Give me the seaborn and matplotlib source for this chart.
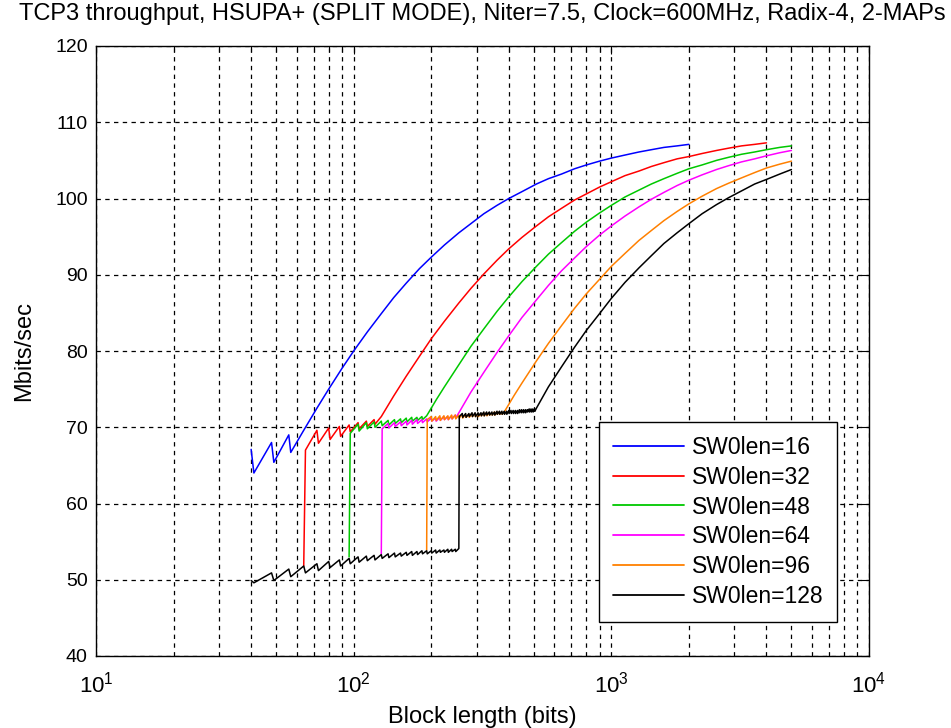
import matplotlib
matplotlib.use("Agg")
import matplotlib.pyplot as plt
import numpy as np
import pandas as pd
import seaborn as sns

# ---------------- data ----------------
labels = ["SW0len=16", "SW0len=32", "SW0len=48", "SW0len=64", "SW0len=96", "SW0len=128"]
colors = ["#0000FF", "#FF0000", "#00C800", "#FF00FF", "#FF8000", "#000000"]

# saw-tooth region: value just before each drop (peak at N) and right after it (trough at N+1)
blue_teeth_N = [40, 48, 56]
blue_teeth_peak = [67.1, 68.0, 69.0]
blue_teeth_trough = [64.0, 65.4, 66.7]
blue_N = [64, 72, 80, 90, 100, 113, 128, 143, 160, 180, 200, 225, 256, 285, 320, 360, 400,
          450, 512, 570, 640, 720, 800, 900, 1000, 1130, 1280, 1430, 1600, 1800, 2000]
blue_y = [69.6, 72.5, 75.0, 77.7, 80.0, 82.5, 84.9, 87.0, 88.9, 90.8, 92.3, 93.9, 95.5, 96.7,
          98.0, 99.1, 100.0, 100.9, 101.9, 102.6, 103.2, 103.9, 104.4, 104.9, 105.3, 105.7,
          106.1, 106.4, 106.7, 106.9, 107.1]

red_teeth_N = [64, 72, 80, 88, 96, 104, 112, 120]
red_teeth_peak = [51.8, 69.6, 69.9, 70.1, 70.3, 70.6, 70.8, 71.0]
red_teeth_trough = [67.0, 67.9, 68.4, 68.8, 69.4, 69.8, 70.1, 70.4]
red_N = [128, 143, 160, 180, 200, 225, 256, 285, 320, 360, 400, 450, 512, 570, 640, 720, 800,
         900, 1000, 1130, 1280, 1430, 1600, 1800, 2000, 2250, 2560, 2850, 3200, 3600, 4000]
red_y = [71.4, 74.1, 76.7, 79.3, 81.6, 83.9, 86.3, 88.2, 90.1, 91.9, 93.4, 94.9, 96.4, 97.6,
         98.7, 99.8, 100.6, 101.5, 102.2, 103.0, 103.6, 104.2, 104.7, 105.2, 105.5, 105.9,
         106.3, 106.6, 106.9, 107.1, 107.3]

green_teeth_N = [96, 104, 112, 120, 128, 136, 144, 152, 160, 168, 176, 184]
green_teeth_peak = [53.0, 70.4, 70.6, 70.7, 70.8, 70.9, 71.0, 71.1, 71.2, 71.3, 71.3, 71.4]
green_teeth_trough = [69.2, 69.5, 69.8, 70.0, 70.2, 70.3, 70.5, 70.6, 70.7, 70.8, 70.9, 71.0]
green_N = [192, 210, 225, 256, 285, 320, 360, 400, 450, 512, 570, 640, 720, 800, 900, 1000,
           1130, 1280, 1430, 1600, 1800, 2000, 2250, 2560, 2850, 3200, 3600, 4000, 4500, 5000]
green_y = [71.5, 73.7, 75.3, 78.2, 80.6, 82.9, 85.2, 87.1, 89.1, 91.1, 92.7, 94.2, 95.7, 96.9,
           98.1, 99.1, 100.2, 101.1, 101.9, 102.6, 103.3, 103.9, 104.4, 105.0, 105.4, 105.8,
           106.1, 106.4, 106.7, 106.9]

mag_teeth_N = [128, 136, 144, 152, 160, 168, 176, 184, 192, 200, 208, 216, 224, 232, 240, 248]
mag_teeth_peak = [53.4, 70.5, 70.6, 70.7, 70.8, 70.9, 71.0, 71.0, 71.1, 71.2, 71.2, 71.3, 71.4, 71.4, 71.5, 71.6]
mag_teeth_trough = [69.8, 69.9, 70.1, 70.2, 70.3, 70.4, 70.5, 70.6, 70.7, 70.8, 70.8, 70.9, 71.0, 71.0, 71.1, 71.2]
mag_N = [256, 285, 320, 360, 400, 450, 512, 570, 640, 720, 800, 900, 1000, 1130, 1280, 1430,
         1600, 1800, 2000, 2250, 2560, 2850, 3200, 3600, 4000, 4500, 5000]
mag_y = [71.9, 74.6, 77.2, 79.8, 82.0, 84.4, 86.7, 88.6, 90.5, 92.2, 93.7, 95.2, 96.4, 97.7,
         98.9, 99.9, 100.8, 101.7, 102.4, 103.1, 103.8, 104.3, 104.8, 105.2, 105.6, 106.0, 106.3]

orange_teeth_N = [192, 200, 208, 216, 224, 232, 240, 248, 256, 264, 272, 280,
                  288, 296, 304, 312, 320, 328, 336, 344, 352, 360, 368, 376]
orange_teeth_peak = [53.9, 71.4, 71.4, 71.5, 71.5, 71.5, 71.6, 71.6, 71.6, 71.7, 71.7, 71.7,
                     71.8, 71.8, 71.8, 71.8, 71.9, 71.9, 71.9, 71.9, 72.0, 72.0, 72.0, 72.0]
orange_teeth_trough = [71.0, 70.8, 70.9, 70.9, 71.0, 71.0, 71.1, 71.1, 71.2, 71.2, 71.3, 71.3,
                       71.4, 71.4, 71.4, 71.5, 71.5, 71.5, 71.6, 71.6, 71.6, 71.7, 71.7, 71.7]
orange_N = [384, 420, 450, 512, 570, 640, 720, 800, 900, 1000, 1130, 1280, 1430, 1600, 1800,
            2000, 2250, 2560, 2850, 3200, 3600, 4000, 4500, 5000]
orange_y = [72.0, 74.2, 75.8, 78.7, 81.0, 83.3, 85.6, 87.5, 89.4, 91.1, 92.8, 94.5, 95.8, 97.1,
            98.3, 99.3, 100.3, 101.3, 102.0, 102.7, 103.4, 104.0, 104.5, 104.9]

black_teeth_N = [40, 48, 56, 64, 72, 80, 88, 96, 104, 112, 120, 128, 136, 144, 152, 160,
                 168, 176, 184, 192, 200, 208, 216, 224, 232, 240, 248, 256,
                 264, 272, 280, 288, 296, 304, 312, 320, 328, 336, 344, 352, 360, 368,
                 376, 384, 392, 400, 408, 416, 424, 432, 440, 448, 456, 464, 472, 480,
                 488, 496, 504]
black_teeth_peak = [49.9, 50.9, 51.4, 51.8, 52.1, 52.4, 52.6, 52.8, 53.0, 53.1, 53.2, 53.3,
                    53.4, 53.5, 53.5, 53.6, 53.7, 53.7, 53.8, 53.8, 53.8, 53.9, 53.9, 53.9,
                    54.0, 54.0, 54.0, 54.1,
                    71.8, 71.8, 71.8, 71.9, 71.9, 71.9, 71.9, 72.0, 72.0, 72.0, 72.0, 72.0,
                    72.1, 72.1, 72.1, 72.1, 72.1, 72.2, 72.2, 72.2, 72.2, 72.2, 72.3, 72.3,
                    72.3, 72.3, 72.3, 72.4, 72.4, 72.4, 72.4]
black_teeth_trough = [49.6, 49.9, 50.4, 50.9, 51.2, 51.6, 51.8, 52.1, 52.3, 52.5, 52.6, 52.8,
                      52.9, 53.0, 53.1, 53.2, 53.2, 53.3, 53.4, 53.4, 53.5, 53.5, 53.6, 53.6,
                      53.6, 53.7, 53.7, 71.4,
                      71.3, 71.3, 71.4, 71.4, 71.4, 71.5, 71.5, 71.5, 71.6, 71.6, 71.6, 71.6,
                      71.7, 71.7, 71.7, 71.7, 71.7, 71.8, 71.8, 71.8, 71.8, 71.8, 71.9, 71.9,
                      71.9, 71.9, 72.0, 72.0, 72.0, 72.0, 72.1]
black_N = [512, 570, 640, 720, 800, 900, 1000, 1130, 1280, 1430, 1600, 1800, 2000, 2250, 2560,
           2850, 3200, 3600, 4000, 4500, 5000]
black_y = [72.5, 75.3, 77.9, 80.5, 82.7, 84.9, 86.9, 89.0, 90.9, 92.5, 94.1, 95.5, 96.7, 98.0,
           99.2, 100.1, 101.0, 101.9, 102.5, 103.2, 103.8]

series = [
    (blue_teeth_N, blue_teeth_peak, blue_teeth_trough, blue_N, blue_y),
    (red_teeth_N, red_teeth_peak, red_teeth_trough, red_N, red_y),
    (green_teeth_N, green_teeth_peak, green_teeth_trough, green_N, green_y),
    (mag_teeth_N, mag_teeth_peak, mag_teeth_trough, mag_N, mag_y),
    (orange_teeth_N, orange_teeth_peak, orange_teeth_trough, orange_N, orange_y),
    (black_teeth_N, black_teeth_peak, black_teeth_trough, black_N, black_y),
]

rows = []
for lab, (tN, tp, tt, sN, sy) in zip(labels, series):
    for n, p, t in zip(tN, tp, tt):
        rows.append((lab, n, p))
        rows.append((lab, n + 1, t))
    for n, v in zip(sN, sy):
        rows.append((lab, n, v))
df = pd.DataFrame(rows, columns=["series", "N", "Mbps"])

# ---------------- styling ----------------
sns.set_theme(style="white")
plt.rcParams["font.family"] = ["Liberation Sans", "DejaVu Sans"]
plt.rcParams["mathtext.fontset"] = "custom"
plt.rcParams["mathtext.rm"] = "Liberation Sans"
plt.rcParams["mathtext.it"] = "Liberation Sans"
for k in ["text.color", "axes.labelcolor", "xtick.color", "ytick.color"]:
    plt.rcParams[k] = "black"

fig = plt.figure(figsize=(9.51, 7.28), dpi=100)
ax = fig.add_axes([96 / 951, 1 - 656 / 728, 773 / 951, 610 / 728])

sns.lineplot(data=df, x="N", y="Mbps", hue="series", hue_order=labels,
             palette=colors, sort=False, estimator=None, linewidth=1.1, ax=ax, zorder=3)

ax.set_xscale("log")
ax.set_xlim(10, 10000)
ax.set_ylim(40, 120)
ax.set_yticks(np.arange(40, 121, 10))
ax.xaxis.set_major_locator(matplotlib.ticker.LogLocator(base=10, numticks=10))
ax.xaxis.set_minor_locator(matplotlib.ticker.LogLocator(base=10, subs=np.arange(2, 10), numticks=20))
ax.xaxis.set_minor_formatter(matplotlib.ticker.NullFormatter())

dash = (0, (3.5, 3.5))
ax.grid(True, which="both", axis="x", color="black", linestyle=dash, linewidth=0.9)
ax.grid(True, which="major", axis="y", color="black", linestyle=dash, linewidth=0.9)
ax.set_axisbelow(True)

for s in ax.spines.values():
    s.set_color("black")
    s.set_linewidth(1.0)
ax.tick_params(which="both", direction="in", top=True, right=True, colors="black")
ax.tick_params(axis="y", labelsize=14)
ax.tick_params(axis="x", labelsize=16)
ax.tick_params(which="major", length=6, width=0.8)
ax.tick_params(axis="y", which="major", pad=6)
ax.tick_params(axis="x", which="major", pad=11)
ax.tick_params(which="minor", length=4, width=0.8)

ax.set_xlabel("Block length (bits)", fontsize=17, labelpad=6)
ax.set_ylabel("Mbits/sec", fontsize=17, labelpad=14)
ax.set_title("TCP3 throughput, HSUPA+ (SPLIT MODE), Niter=7.5, Clock=600MHz, Radix-4, 2-MAPs",
             fontsize=17, pad=19)

leg = ax.legend(loc="upper left", bbox_to_anchor=(0.6507, 0.3836), fontsize=16.5,
                frameon=True, fancybox=False, framealpha=1, edgecolor="black",
                handlelength=3.1, handletextpad=0.35, borderpad=0.6, labelspacing=0.3,
                borderaxespad=0)
leg.get_frame().set_linewidth(1.0)
for line in leg.get_lines():
    line.set_linewidth(1.3)

fig.savefig("out.png", dpi=100)
